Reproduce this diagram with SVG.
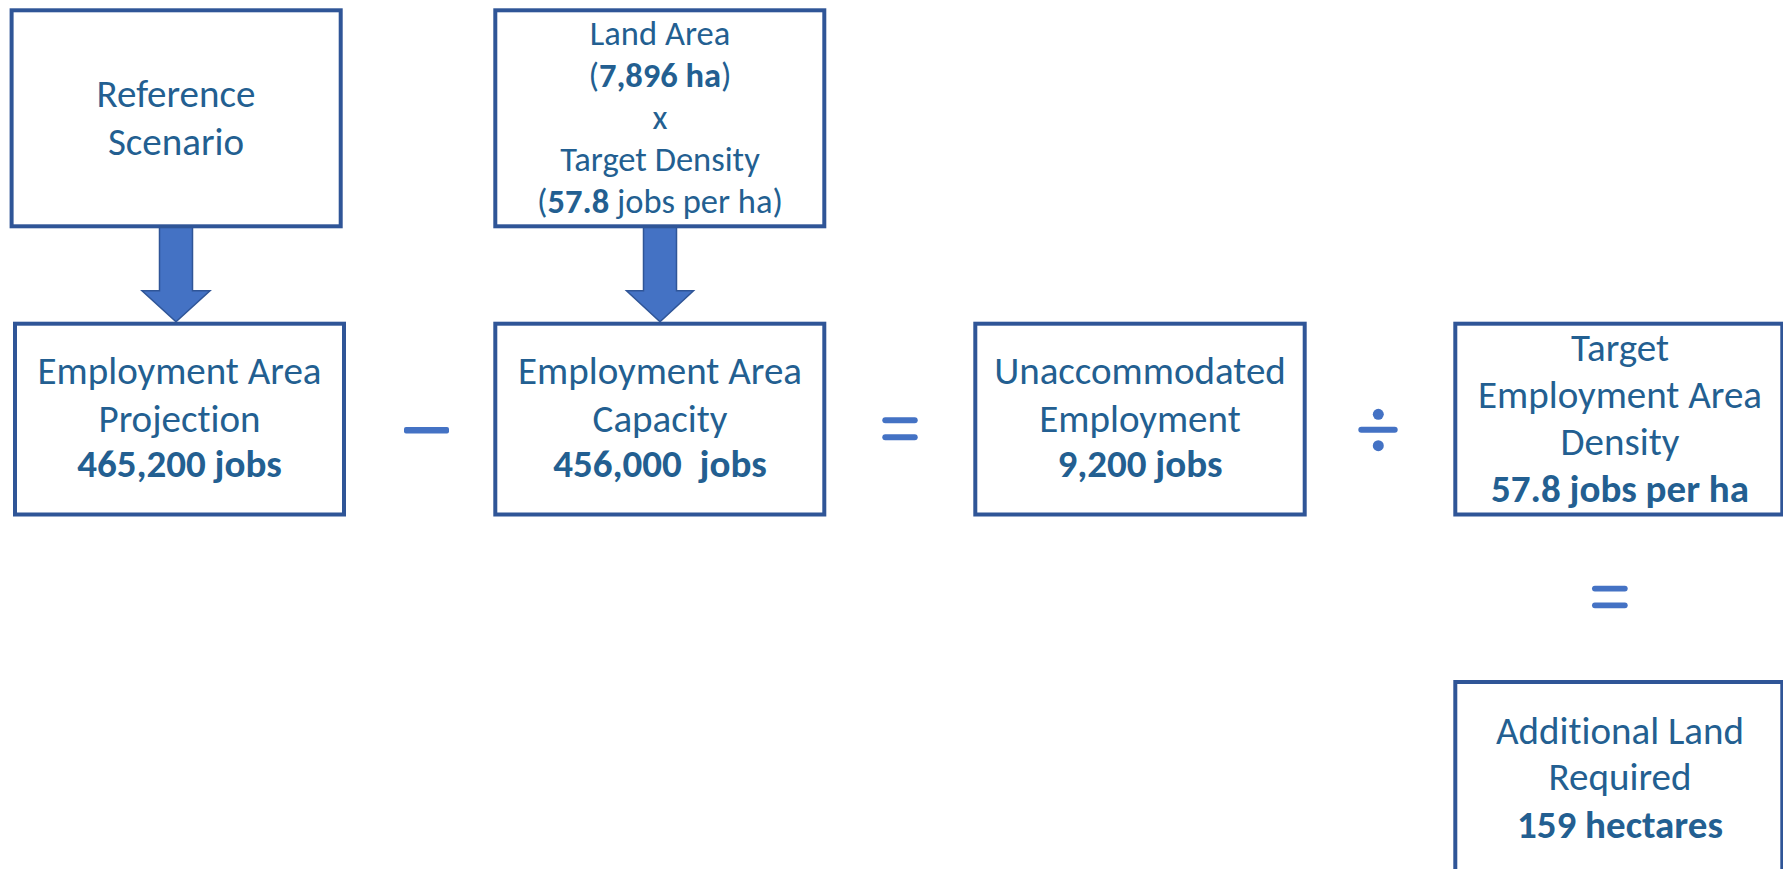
<svg xmlns="http://www.w3.org/2000/svg" width="1783" height="869" viewBox="0 0 1783 869">
  <style>
    .box { fill: #FFFFFF; stroke: #2F5597; stroke-width: 4; }
    .lbl { font-family: Carlito, Calibri, Lato, "Open Sans", sans-serif; font-size: 39px; fill: #235F91; text-anchor: middle; font-variant-ligatures: none; font-feature-settings: "liga" 0, "clig" 0; }
    .sm { font-size: 34.5px; }
    .b { font-weight: bold; }
    .arrow { fill: #4472C4; stroke: #2F5597; stroke-width: 1.5; stroke-linejoin: miter; }
    .op { fill: #4472C4; }
  </style>

  <!-- block arrows feeding the first row into the second -->
  <g id="connectors">
    <polygon class="arrow" points="159.5,226 192.5,226 192.5,290.7 210,290.7 176,321.7 142,290.7 159.5,290.7"/>
    <polygon class="arrow" points="643.5,226 676.5,226 676.5,290.7 693.5,290.7 660,321.7 626.5,290.7 643.5,290.7"/>
  </g>

  <!-- arithmetic operators between boxes -->
  <g id="operators">
    <rect class="op" x="404" y="427" width="45" height="6.5" rx="2"/>
    <rect class="op" x="882.3" y="417.3" width="35.4" height="6" rx="3"/>
    <rect class="op" x="882.3" y="434.3" width="35.4" height="6" rx="3"/>
    <rect class="op" x="1358.3" y="426.7" width="39.4" height="6" rx="3"/>
    <circle class="op" cx="1378.3" cy="414.3" r="5.5"/>
    <circle class="op" cx="1378.3" cy="445.7" r="5.5"/>
    <rect class="op" x="1592" y="585.7" width="35.7" height="5.8" rx="2.9"/>
    <rect class="op" x="1592" y="602.4" width="35.7" height="5.8" rx="2.9"/>
  </g>

  <g id="reference-scenario">
    <rect class="box" x="11.6" y="10.3" width="329.1" height="216"/>
    <text class="lbl" x="176" y="107">Reference</text>
    <text class="lbl" x="176" y="155">Scenario</text>
  </g>

  <g id="land-area">
    <rect class="box" x="495.3" y="10.3" width="329" height="216"/>
    <text class="lbl sm" x="660" y="45">Land Area</text>
    <text class="lbl sm" x="660" y="87">(<tspan class="b">7,896 ha</tspan>)</text>
    <text class="lbl sm" x="660" y="129">x</text>
    <text class="lbl sm" x="660" y="171">Target Density</text>
    <text class="lbl sm" x="660" y="213">(<tspan class="b">57.8</tspan> jobs per ha)</text>
  </g>

  <g id="employment-projection">
    <rect class="box" x="15" y="323.7" width="329" height="190.8"/>
    <text class="lbl" x="179.5" y="384">Employment Area</text>
    <text class="lbl" x="179.5" y="431.5">Projection</text>
    <text class="lbl b" x="179.5" y="477">465,200 jobs</text>
  </g>

  <g id="employment-capacity">
    <rect class="box" x="495.3" y="323.7" width="329" height="190.8"/>
    <text class="lbl" x="660" y="384">Employment Area</text>
    <text class="lbl" x="660" y="431.5">Capacity</text>
    <text class="lbl b" x="660" y="477" style="white-space:pre">456,000  jobs</text>
  </g>

  <g id="unaccommodated-employment">
    <rect class="box" x="975.3" y="323.7" width="329.4" height="190.8"/>
    <text class="lbl" x="1140" y="384">Unaccommodated</text>
    <text class="lbl" x="1140" y="431.5">Employment</text>
    <text class="lbl b" x="1140" y="477">9,200 jobs</text>
  </g>

  <g id="target-density">
    <rect class="box" x="1455.3" y="323.7" width="327" height="190.8"/>
    <text class="lbl" x="1620" y="360.5">Target</text>
    <text class="lbl" x="1620" y="407.5">Employment Area</text>
    <text class="lbl" x="1620" y="455">Density</text>
    <text class="lbl b" x="1620" y="501.5">57.8 jobs per ha</text>
  </g>

  <g id="additional-land">
    <rect class="box" x="1455.3" y="682" width="327" height="200"/>
    <text class="lbl" x="1620" y="743.5">Additional Land</text>
    <text class="lbl" x="1620" y="790">Required</text>
    <text class="lbl b" x="1620" y="837.5">159 hectares</text>
  </g>
</svg>
